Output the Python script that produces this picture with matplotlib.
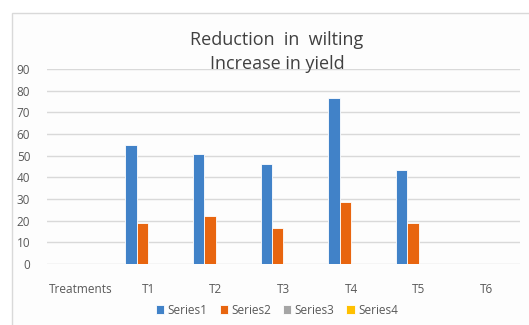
import numpy as np
import matplotlib.pyplot as plt
from matplotlib.patches import Rectangle

# Chart data
categories = ['Treatments', 'T1', 'T2', 'T3', 'T4', 'T5', 'T6']
series1 = [0, 55, 51, 46, 76.5, 43.5, 0]
series2 = [0, 19, 22, 16.5, 28.5, 19, 0]
series3 = [0, 0, 0, 0, 0, 0, 0]
series4 = [0, 0, 0, 0, 0, 0, 0]
series_names = ['Series1', 'Series2', 'Series3', 'Series4']
colors = ['#4182c8', '#e8650f', '#a5a5a5', '#ffc000']
yticks = [0, 10, 20, 30, 40, 50, 60, 70, 80, 90]

plt.rcParams['font.family'] = ['Open Sans', 'DejaVu Sans']
text_color = '#595959'

fig = plt.figure(figsize=(5.29, 3.25), dpi=100)
fig.patch.set_facecolor('white')

# light chart border (top and left edges visible), kept behind the axes
fig.add_artist(Rectangle((12 / 529, -0.1), 1.2, 1 - 13 / 325 + 0.1,
                         transform=fig.transFigure, fill=True, zorder=-5,
                         facecolor='#fdfdfd', edgecolor='#d9d9d9', lw=1.0))

ax = fig.add_axes([47 / 529, 1 - 264 / 325, (520 - 47) / 529, (264 - 69) / 325])
ax.set_facecolor('none')
ax.set_zorder(2)

x = np.arange(len(categories))
width = 0.17
all_series = [series1, series2, series3, series4]
for i, (vals, name, c) in enumerate(zip(all_series, series_names, colors)):
    offset = (i - 1.5) * width
    ax.bar(x + offset, vals, width, color=c, edgecolor='white', linewidth=0.6,
           label=name, zorder=3)

ax.set_xlim(-0.5, len(categories) - 0.5)
ax.set_ylim(0, 90)
ax.set_yticks(yticks)
ax.set_xticks(x)
ax.set_xticklabels(categories)
ax.grid(axis='y', color='#d9d9d9', linewidth=1.0, zorder=0)
for s in ax.spines.values():
    s.set_visible(False)
ax.tick_params(axis='both', length=0, colors=text_color, labelsize=8.5)
ax.tick_params(axis='x', pad=14)
ax.tick_params(axis='y', pad=12)

fig.text(277 / 529, 1 - 40 / 325, 'Reduction  in  wilting', ha='center', va='center',
         fontsize=13, color='#404040', zorder=3)
fig.text(277 / 529, 1 - 64 / 325, 'Increase in yield', ha='center', va='center',
         fontsize=13, color='#404040', zorder=3)

leg = fig.legend(loc='center', bbox_to_anchor=(277 / 529, 1 - 310 / 325), ncol=4,
                 frameon=False, fontsize=8.5, handlelength=0.7, handleheight=0.7,
                 handletextpad=0.3, columnspacing=1.0)
for t in leg.get_texts():
    t.set_color(text_color)

fig.savefig('out.png', dpi=100)
